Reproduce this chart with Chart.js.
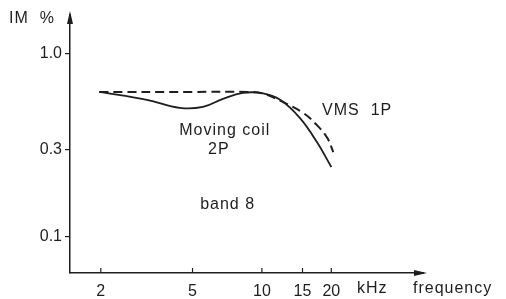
<!DOCTYPE html>
<html>
<head>
<meta charset="utf-8">
<script src="https://cdn.jsdelivr.net/npm/chart.js@4"></script>
<style>
html,body{margin:0;padding:0;background:#fff;}
#wrap{width:506px;height:299px;position:relative;}
</style>
</head>
<body>
<div id="wrap"><canvas id="c" width="506" height="299"></canvas></div>
<script>
const freqTicks = [2, 5, 10, 15, 20];
const imTicks = [0.1, 0.3, 1.0];
const movingCoilFreq = [1.97, 3.17, 4.4, 5.55, 6.78, 8.27, 10, 12.0, 14.6, 17.3, 20.0];
const movingCoilIM   = [0.62, 0.561, 0.507, 0.513, 0.568, 0.612, 0.61, 0.561, 0.447, 0.331, 0.241];
const vmsFreq = [1.97, 5, 8.6, 10, 12.3, 15.1, 17.3, 19.2, 20.4];
const vmsIM   = [0.62, 0.62, 0.62, 0.61, 0.547, 0.476, 0.409, 0.348, 0.291];
const labels = [
  {text: 'Moving coil', x: 6.9, y: 0.38},
  {text: '2P', x: 6.5, y: 0.30},
  {text: 'VMS  1P', x: 25.9, y: 0.49},
  {text: 'band 8', x: 7.1, y: 0.15}
];

const INK = '#1e1e1e';
const FONT = '"Liberation Sans", Arial, sans-serif';

const toPts = (xs, ys) => xs.map((x, i) => ({x: x, y: ys[i]}));

const extras = {
  id: 'extras',
  afterDraw(chart) {
    const ctx = chart.ctx;
    const xs = chart.scales.x, ys = chart.scales.y;
    const ca = chart.chartArea;
    ctx.save();
    ctx.strokeStyle = INK;
    ctx.fillStyle = INK;
    ctx.lineWidth = 1.2;
    freqTicks.forEach(v => {
      const px = xs.getPixelForValue(v);
      ctx.beginPath();
      ctx.moveTo(px, ca.bottom);
      ctx.lineTo(px, ca.bottom - 5);
      ctx.stroke();
    });
    ctx.beginPath();
    ctx.moveTo(ca.left, ca.top - 4);
    ctx.lineTo(ca.left - 3, ca.top + 9);
    ctx.lineTo(ca.left + 3, ca.top + 9);
    ctx.closePath();
    ctx.fill();
    ctx.beginPath();
    ctx.moveTo(ca.right + 4, ca.bottom);
    ctx.lineTo(ca.right - 9, ca.bottom - 3);
    ctx.lineTo(ca.right - 9, ca.bottom + 3);
    ctx.closePath();
    ctx.fill();
    ctx.font = '16px ' + FONT;
    try { ctx.letterSpacing = '1px'; } catch (e) {}
    ctx.textBaseline = 'middle';
    ctx.textAlign = 'center';
    labels.forEach(l => {
      ctx.fillText(l.text, xs.getPixelForValue(l.x), ys.getPixelForValue(l.y));
    });
    ctx.textAlign = 'left';
    ctx.fillText('IM  %', 9, 19);
    ctx.fillText('kHz', 357, 289);
    ctx.fillText('frequency', 413, 289);
    ctx.restore();
  }
};

new Chart(document.getElementById('c'), {
  type: 'scatter',
  data: {
    datasets: [
      {
        label: 'Moving coil 2P',
        data: toPts(movingCoilFreq, movingCoilIM),
        showLine: true,
        borderColor: INK,
        borderWidth: 1.8,
        pointRadius: 0,
        tension: 0.4,
        fill: false
      },
      {
        label: 'VMS 1P',
        data: toPts(vmsFreq, vmsIM),
        showLine: true,
        borderColor: INK,
        borderWidth: 2,
        borderDash: [9, 5],
        pointRadius: 0,
        tension: 0.4,
        fill: false
      }
    ]
  },
  options: {
    responsive: false,
    animation: false,
    devicePixelRatio: 1,
    layout: {padding: {left: 0, right: 83, top: 15, bottom: 0}},
    plugins: {legend: {display: false}, tooltip: {enabled: false}},
    scales: {
      x: {
        type: 'logarithmic',
        min: 1.47,
        max: 50,
        afterBuildTicks: s => { s.ticks = freqTicks.map(v => ({value: v})); },
        afterFit: s => { s.height = 26; },
        grid: {display: false},
        border: {display: true, color: INK, width: 1.5},
        ticks: {
          color: INK,
          font: {family: FONT, size: 16},
          padding: 1,
          maxRotation: 0,
          autoSkip: false,
          callback: v => String(v)
        }
      },
      y: {
        type: 'logarithmic',
        min: 0.0636,
        max: 1.63,
        afterBuildTicks: s => { s.ticks = imTicks.map(v => ({value: v})); },
        afterFit: s => { s.width = 70; },
        grid: {display: true, drawOnChartArea: false, drawTicks: true, tickLength: 5, color: INK, lineWidth: 1.2},
        border: {display: true, color: INK, width: 1.5},
        ticks: {
          color: INK,
          font: {family: FONT, size: 16},
          padding: 3,
          autoSkip: false,
          callback: v => Number(v).toFixed(1)
        }
      }
    }
  },
  plugins: [extras]
});
</script>
</body>
</html>
